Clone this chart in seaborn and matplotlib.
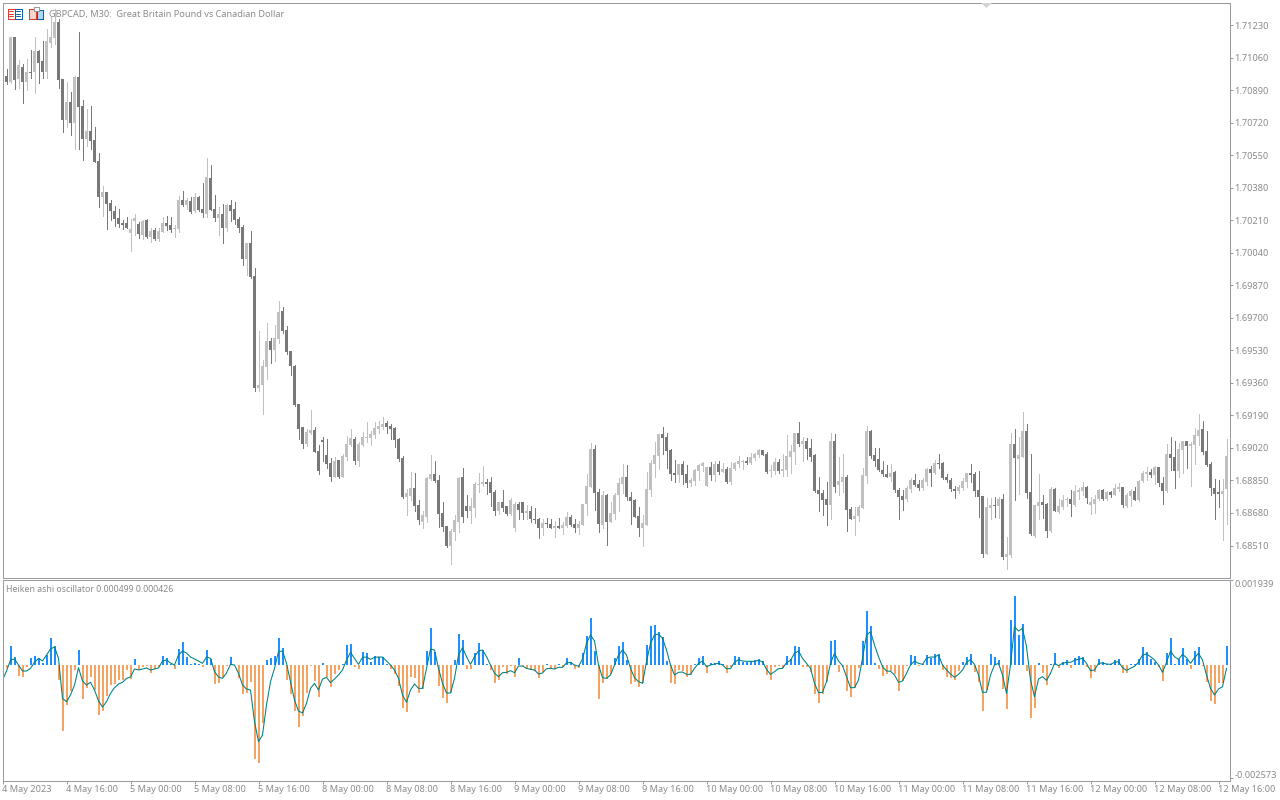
import numpy as np
import pandas as pd
import matplotlib
matplotlib.use("Agg")
import matplotlib.pyplot as plt
from matplotlib.patches import Polygon, Rectangle
import seaborn as sns

# prices are points above 1.68000 (1 point = 0.00001)
opens_pts = [
    2925, 2968, 2932, 3167, 2949, 3015, 2932, 2989, 2984, 3094,
    3042, 2989, 3136, 3162, 3250, 2948, 2734, 2828, 2718, 2958,
    2807, 2634, 2676, 2629, 2520, 2332, 2358, 2300, 2259, 2222,
    2196, 2196, 2144, 2206, 2191, 2133, 2212, 2123, 2159, 2112,
    2149, 2196, 2186, 2165, 2165, 2316, 2290, 2311, 2259, 2332,
    2269, 2243, 2431, 2269, 2222, 2243, 2170, 2290, 2269, 2217,
    2175, 2008, 2092, 1919, 1335, 1350, 1444, 1580, 1533, 1591,
    1737, 1638, 1528, 1450, 1251, 1131, 1043, 1100, 1116, 1006,
    1063, 985, 943, 870, 959, 870, 975, 1037, 1069, 954,
    1037, 1074, 1074, 1090, 1121, 1131, 1152, 1136, 1126, 1069,
    969, 766, 771, 813, 724, 635, 661, 860, 886, 855,
    682, 614, 505, 583, 635, 870, 714, 688, 708, 829,
    834, 844, 844, 792, 688, 735, 714, 677, 599, 729,
    740, 682, 693, 651, 646, 599, 630, 625, 599, 614,
    604, 614, 661, 625, 604, 619, 729, 818, 1016, 792,
    619, 776, 635, 677, 776, 834, 870, 766, 750, 666,
    604, 619, 802, 938, 980, 1095, 1079, 1011, 891, 880,
    938, 886, 839, 849, 901, 927, 823, 922, 880, 938,
    896, 912, 844, 912, 938, 948, 954, 943, 969, 985,
    1011, 990, 901, 901, 948, 901, 907, 974, 1001, 1100,
    1042, 1058, 1021, 985, 802, 787, 755, 724, 1058, 828,
    844, 870, 703, 651, 666, 708, 875, 1110, 985, 964,
    907, 886, 870, 896, 802, 771, 755, 807, 854, 834,
    813, 844, 912, 891, 943, 943, 870, 854, 807, 797,
    813, 844, 891, 886, 802, 771, 463, 708, 724, 719,
    755, 452, 458, 1042, 964, 974, 1110, 792, 562, 719,
    740, 729, 588, 807, 687, 713, 750, 755, 724, 792,
    797, 818, 724, 729, 755, 802, 755, 792, 776, 807,
    818, 719, 771, 797, 750, 849, 886, 896, 880, 922,
    839, 797, 990, 974, 901, 1011, 1058, 1032, 1037, 1084,
    1121, 1006, 938, 813, 792, 781, 807,
]
closes_pts = [
    2968, 2932, 3167, 2946, 3021, 2932, 2989, 2979, 3094, 3036,
    2989, 3146, 3167, 3250, 2942, 2734, 2828, 2718, 2958, 2801,
    2634, 2676, 2624, 2514, 2332, 2358, 2295, 2259, 2217, 2191,
    2186, 2170, 2165, 2222, 2139, 2206, 2123, 2154, 2112, 2154,
    2196, 2180, 2159, 2168, 2316, 2290, 2316, 2253, 2332, 2264,
    2248, 2436, 2264, 2222, 2243, 2170, 2290, 2259, 2212, 2170,
    2008, 2092, 1914, 1335, 1350, 1450, 1580, 1533, 1596, 1733,
    1632, 1523, 1450, 1246, 1121, 1043, 1105, 1116, 1001, 902,
    1053, 938, 870, 954, 870, 980, 1043, 1074, 954, 1043,
    1079, 1079, 1095, 1126, 1136, 1147, 1131, 1121, 1063, 964,
    766, 782, 813, 719, 641, 667, 865, 886, 849, 677,
    609, 510, 588, 641, 865, 661, 688, 714, 834, 834,
    844, 834, 787, 688, 740, 708, 677, 750, 729, 698,
    682, 688, 646, 641, 599, 630, 625, 599, 614, 604,
    619, 661, 619, 604, 625, 729, 823, 1016, 787, 625,
    776, 635, 682, 776, 839, 870, 766, 745, 661, 604,
    630, 807, 943, 985, 1095, 1074, 1006, 886, 880, 938,
    880, 839, 854, 907, 933, 943, 922, 880, 938, 896,
    912, 844, 917, 943, 954, 954, 943, 974, 990, 1011,
    985, 896, 907, 948, 901, 912, 980, 1006, 1100, 1042,
    1058, 1016, 974, 797, 781, 750, 724, 1058, 818, 849,
    870, 698, 651, 666, 713, 880, 1110, 980, 954, 907,
    886, 870, 891, 802, 766, 750, 813, 854, 828, 813,
    854, 912, 891, 943, 938, 865, 854, 807, 797, 818,
    849, 891, 880, 797, 766, 463, 713, 724, 719, 755,
    452, 463, 1042, 969, 985, 1110, 787, 572, 724, 740,
    724, 588, 807, 693, 719, 750, 755, 729, 797, 802,
    818, 760, 740, 755, 802, 755, 792, 776, 813, 818,
    724, 776, 797, 750, 849, 891, 896, 880, 922, 839,
    797, 990, 969, 901, 1016, 1058, 1032, 1042, 1089, 1115,
    1001, 933, 813, 781, 781, 797, 980,
]
highs_pts = [
    2968, 3000, 3167, 3167, 3050, 3026, 3057, 3099, 3172, 3104,
    3146, 3209, 3276, 3318, 3266, 2948, 2932, 2881, 2968, 3198,
    2838, 2791, 2807, 2697, 2561, 2389, 2358, 2316, 2285, 2269,
    2212, 2227, 2217, 2243, 2201, 2212, 2217, 2170, 2170, 2170,
    2227, 2232, 2227, 2185, 2337, 2363, 2326, 2332, 2353, 2337,
    2405, 2535, 2499, 2342, 2279, 2295, 2295, 2316, 2306, 2227,
    2185, 2092, 2154, 1961, 1632, 1481, 1674, 1596, 1664, 1789,
    1758, 1658, 1528, 1455, 1251, 1131, 1121, 1220, 1131, 1037,
    1079, 1069, 969, 975, 959, 990, 1084, 1121, 1079, 1053,
    1105, 1157, 1110, 1157, 1163, 1183, 1163, 1147, 1131, 1074,
    980, 808, 896, 891, 750, 693, 870, 985, 954, 881,
    740, 614, 594, 667, 870, 917, 776, 761, 844, 891,
    928, 860, 870, 802, 740, 802, 719, 761, 740, 735,
    740, 724, 714, 708, 656, 646, 656, 651, 640, 656,
    635, 687, 672, 651, 640, 729, 886, 1048, 1037, 807,
    797, 781, 740, 787, 865, 938, 933, 792, 755, 713,
    672, 896, 959, 1053, 1095, 1131, 1100, 1016, 959, 938,
    954, 933, 865, 912, 938, 948, 922, 948, 954, 954,
    943, 922, 948, 948, 980, 959, 974, 995, 995, 1016,
    1011, 1001, 933, 969, 964, 990, 1089, 1037, 1100, 1157,
    1079, 1074, 1068, 990, 870, 802, 844, 1100, 1095, 974,
    990, 880, 713, 713, 724, 917, 1136, 1115, 1021, 1021,
    954, 933, 938, 901, 813, 802, 823, 865, 886, 854,
    865, 917, 927, 959, 990, 948, 886, 865, 823, 828,
    865, 891, 938, 896, 901, 771, 760, 760, 766, 766,
    781, 552, 1100, 1121, 1079, 1209, 1147, 990, 724, 886,
    776, 734, 818, 813, 755, 776, 766, 802, 828, 813,
    844, 823, 766, 776, 807, 807, 797, 797, 834, 839,
    818, 787, 807, 818, 854, 901, 922, 912, 927, 922,
    870, 1042, 1079, 1058, 1048, 1058, 1058, 1053, 1126, 1199,
    1162, 1110, 948, 860, 854, 860, 1068,
]
lows_pts = [
    2922, 2925, 2928, 2897, 2904, 2824, 2890, 2953, 2876, 2928,
    2956, 2953, 3115, 3134, 2901, 2671, 2699, 2655, 2582, 2582,
    2525, 2598, 2582, 2514, 2279, 2232, 2165, 2212, 2180, 2175,
    2165, 2170, 2050, 2133, 2118, 2112, 2118, 2097, 2107, 2102,
    2149, 2159, 2149, 2123, 2149, 2285, 2269, 2248, 2253, 2259,
    2227, 2227, 2264, 2206, 2133, 2092, 2154, 2206, 2191, 2149,
    1977, 1925, 1909, 1319, 1319, 1199, 1382, 1465, 1476, 1570,
    1622, 1512, 1403, 1241, 1069, 1022, 1032, 1095, 1001, 886,
    954, 917, 849, 870, 865, 870, 959, 1032, 938, 927,
    1032, 1053, 1037, 1074, 1100, 1121, 1100, 1069, 1027, 954,
    761, 672, 750, 688, 620, 599, 635, 855, 844, 609,
    588, 500, 411, 541, 578, 635, 661, 630, 661, 792,
    823, 781, 714, 667, 677, 688, 672, 672, 588, 651,
    651, 646, 635, 630, 547, 567, 609, 599, 557, 599,
    572, 609, 614, 583, 572, 619, 672, 818, 698, 578,
    604, 515, 635, 651, 693, 787, 750, 625, 661, 562,
    510, 619, 771, 870, 912, 990, 917, 854, 844, 844,
    834, 818, 823, 828, 854, 901, 823, 854, 849, 886,
    896, 839, 834, 907, 922, 912, 938, 938, 959, 974,
    985, 891, 870, 886, 891, 875, 875, 891, 938, 1032,
    954, 964, 954, 792, 693, 672, 619, 646, 792, 776,
    792, 588, 651, 567, 640, 708, 839, 969, 927, 901,
    875, 870, 849, 792, 651, 698, 745, 792, 823, 802,
    802, 828, 823, 886, 917, 860, 844, 797, 760, 787,
    802, 818, 844, 771, 661, 452, 463, 646, 661, 656,
    437, 385, 452, 750, 781, 974, 760, 567, 552, 651,
    656, 557, 578, 693, 682, 703, 719, 666, 719, 755,
    776, 734, 677, 682, 750, 750, 750, 766, 776, 797,
    713, 713, 719, 750, 745, 844, 854, 870, 834, 823,
    729, 792, 907, 813, 870, 891, 917, 823, 938, 1037,
    990, 927, 776, 651, 713, 541, 625,
]

# oscillator, units of 1e-6
hist_e6 = [
    0, -68, 433, 182, -251, -274, -46, 160, 205, 160,
    46, 228, 616, 433, -342, -1505, -912, -593, -114, 342,
    -775, -524, -274, -570, -1140, -1049, -707, -456, -433, -342,
    -342, -114, -319, 137, -114, -46, -23, -182, -91, -46,
    205, 160, 23, -91, 365, 524, 182, 23, 46, 23,
    -46, 342, 137, -433, -410, -274, -23, 182, 0, -296,
    -661, -638, -388, -2143, -2234, -1322, 114, 160, 205, 616,
    388, -342, -661, -1049, -1414, -1163, -638, -23, -365, -730,
    46, -274, -502, -205, -114, 23, 456, 479, -46, -91,
    296, 274, 68, 205, 182, 182, 23, -91, -205, -479,
    -980, -1072, -274, -296, -638, -547, 319, 844, 296, -479,
    -752, -866, -638, 114, 707, 570, -91, -91, 274, 502,
    342, 23, -114, -410, -342, -46, -205, -23, -274, 160,
    -23, -91, -114, -137, -296, -160, 23, -68, -91, 23,
    -46, 160, 68, -91, -68, 274, 661, 1072, 319, -775,
    -410, -319, -205, 160, 433, 524, 114, -433, -388, -502,
    -410, 456, 889, 912, 752, 638, 91, -410, -433, -114,
    -137, -274, -228, 23, 160, 205, -182, 46, 46, 91,
    23, -182, -46, 205, 182, 68, 68, 91, 114, 137,
    91, -228, -342, -46, -23, -68, 205, 137, 433, 410,
    -46, -46, -160, -661, -866, -661, -388, 547, 570, -160,
    -46, -593, -730, -524, -68, 547, 1231, 889, 46, -91,
    -251, -205, -137, -205, -593, -365, -23, 228, 205, -23,
    23, 228, 160, 251, 251, -114, -274, -296, -342, -137,
    68, 182, 251, -160, -388, -1049, -570, 251, 182, 114,
    -547, -1003, 1026, 1573, 684, 935, -137, -1208, -980, 46,
    -182, -456, 23, 274, -68, 68, 114, -68, 160, 205,
    182, -46, -296, -160, 137, 68, 23, 23, 114, 137,
    -182, -182, 23, 23, 137, 410, 296, 137, 68, -46,
    -365, 274, 616, 23, 137, 388, 137, -91, 319, 410,
    -23, -388, -821, -889, -410, -410, 433,
]
signal_e6 = [
    -342, -137, 114, 137, 0, -137, -137, -76, 61, 152,
    91, 228, 365, 410, 152, -760, -836, -684, -456, -61,
    -365, -456, -395, -570, -821, -958, -836, -646, -517, -433,
    -395, -304, -274, -91, -114, -91, -68, -114, -91, -68,
    91, 114, 46, 0, 228, 319, 274, 182, 137, 91,
    38, 182, 152, -152, -274, -304, -182, 15, 0, -190,
    -456, -547, -570, -1292, -1748, -1596, -912, -380, -76, 304,
    319, 38, -380, -798, -1049, -1094, -874, -532, -418, -570,
    -319, -281, -403, -319, -228, -114, 114, 289, 152, 15,
    175, 182, 129, 175, 182, 182, 91, 0, -114, -304,
    -684, -851, -570, -433, -532, -532, -76, 365, 342, -76,
    -418, -638, -638, -304, 228, 395, 190, 15, 190, 319,
    342, 190, 0, -190, -266, -175, -167, -129, -175, -23,
    -23, -76, -99, -114, -205, -182, -84, -76, -91, -53,
    -53, 46, 61, 0, -30, 137, 494, 684, 547, 0,
    -289, -304, -228, 0, 228, 342, 228, -76, -289, -380,
    -418, 76, 494, 684, 707, 608, 342, 0, -228, -167,
    -160, -213, -213, -76, 38, 91, -38, 0, 23, 38,
    0, -84, -84, 61, 122, 91, 84, 84, 84, 106,
    76, -99, -213, -152, -84, -76, 53, 106, 266, 319,
    152, 38, -76, -418, -631, -623, -380, 38, 266, 91,
    -15, -266, -517, -517, -342, 152, 684, 760, 456, 190,
    -38, -137, -144, -228, -395, -365, -190, 0, 91, 38,
    15, 152, 182, 182, 228, 0, -114, -205, -281, -213,
    -114, 61, 122, 15, -228, -623, -623, -228, 0, 38,
    -228, -646, 0, 874, 775, 836, 418, -342, -722, -319,
    -266, -350, -190, 38, -15, 38, 61, 61, 106, 129,
    152, 38, -129, -114, 38, 46, 23, 15, 61, 76,
    -61, -122, -76, -30, 61, 228, 251, 190, 114, 0,
    -167, 61, 319, 190, 129, 243, 167, 38, 167, 266,
    114, -228, -532, -684, -547, -494, -76,
]

price_ticks = [1.71230, 1.71060, 1.70890, 1.70720, 1.70550, 1.70380, 1.70210, 1.70040,
               1.69870, 1.69700, 1.69530, 1.69360, 1.69190, 1.69020, 1.68850, 1.68680, 1.68510]
osc_ticks = [0.001939, -0.002573]
date_labels = ["4 May 2023", "4 May 16:00", "5 May 00:00", "5 May 08:00", "5 May 16:00",
               "8 May 00:00", "8 May 08:00", "8 May 16:00", "9 May 00:00", "9 May 08:00",
               "9 May 16:00", "10 May 00:00", "10 May 08:00", "10 May 16:00", "11 May 00:00",
               "11 May 08:00", "11 May 16:00", "12 May 00:00", "12 May 08:00", "12 May 16:00"]
BARS_PER_LABEL = 16

UP_COL = "#c0c0c0"
DOWN_COL = "#787878"
BLUE = "#1e90ff"
ORANGE = "#f4a460"
TEAL = "#008080"
FRAME = "#9a9a9e"
TXT = "#8a8a8e"
W, H = 1280, 800
PX = 0.72  # one pixel in points at dpi 100

sns.set_theme(style="white")
plt.rcParams["font.family"] = ["Noto Sans", "DejaVu Sans"]


def box(left, top, right, bottom):
    return [left / W, 1 - bottom / H, (right - left) / W, (bottom - top) / H]


def px(x, y):
    return (x / W, 1 - y / H)


fig = plt.figure(figsize=(12.8, 8), dpi=100, facecolor="white")
ax1 = fig.add_axes(box(2.5, 2.5, 1229.5, 577.5))
ax2 = fig.add_axes(box(2.5, 579.5, 1229.5, 780.5))

# ─── candles ─────────────────────────────────
o = 1.68 + np.array(opens_pts) * 1e-5
c = 1.68 + np.array(closes_pts) * 1e-5
h = 1.68 + np.array(highs_pts) * 1e-5
l = 1.68 + np.array(lows_pts) * 1e-5
xs = np.arange(len(o))
cols = [UP_COL if b >= a else DOWN_COL for a, b in zip(o, c)]

ax1.vlines(xs, l, h, colors=cols, linewidth=PX, antialiased=False)
ax1.bar(xs, np.abs(c - o), bottom=np.minimum(o, c), width=0.75, color=cols,
        linewidth=0, antialiased=False)
ax1.set_xlim(0, 306.75)
ax1.set_ylim(1.68510 - 32 * 5.23e-5, 1.68510 + 543 * 5.23e-5)
ax1.set_xticks([])
ax1.yaxis.tick_right()
ax1.set_yticks(price_ticks)
ax1.set_yticklabels([f"{t:.5f}" for t in price_ticks])
ax1.text(49 / W, 1 - 14 / H, "GBPCAD, M30:  Great Britain Pound vs Canadian Dollar",
         transform=fig.transFigure, fontsize=6.6, color=TXT, va="center", ha="left")

# ─── oscillator ──────────────────────────────
df = pd.DataFrame({"bar": xs, "hist": np.array(hist_e6) * 1e-6, "signal": np.array(signal_e6) * 1e-6})
df["side"] = np.where(df["hist"] >= 0, "up", "down")
sns.barplot(data=df, x="bar", y="hist", hue="side", palette={"up": BLUE, "down": ORANGE},
            native_scale=True, width=0.5, dodge=False, saturation=1, legend=False,
            linewidth=0, ax=ax2)
for patch in ax2.patches:
    patch.set_antialiased(False)
sns.lineplot(data=df, x="bar", y="signal", color=TEAL, linewidth=1.05 * PX,
             estimator=None, errorbar=None, legend=False, ax=ax2)
ax2.set_xlim(0, 306.75)
ax2.set_ylim(-115.5 * 22.8e-6, 85.5 * 22.8e-6)
ax2.set_xlabel("")
ax2.set_ylabel("")
ax2.yaxis.tick_right()
ax2.set_yticks(osc_ticks)
ax2.set_yticklabels([f"{t:.6f}" for t in osc_ticks])
ax2.get_yticklabels()[0].set_va("top")
ax2.get_yticklabels()[1].set_va("baseline")
ax2.set_xticks(np.arange(len(date_labels)) * BARS_PER_LABEL)
ax2.set_xticklabels(date_labels, ha="left")
ax2.text(6 / W, 1 - 589 / H, "Heiken ashi oscillator 0.000499 0.000426",
         transform=fig.transFigure, fontsize=6.3, color=TXT, va="center", ha="left")

for ax in (ax1, ax2):
    for s in ax.spines.values():
        s.set_visible(True)
        s.set_color(FRAME)
        s.set_linewidth(PX)
    ax.tick_params(axis="both", length=3.2 * PX, width=PX, color=FRAME, labelcolor=TXT,
                   labelsize=6.6, pad=1.2, bottom=ax is ax2, right=True, left=False)

# ─── toolbar icons and shift marker ──────────
def rect(x0, y0, x1, y1, face, edge):
    fig.add_artist(Rectangle(px(x0, y1), (x1 - x0) / W, (y1 - y0) / H, transform=fig.transFigure,
                             facecolor=face, edgecolor=edge, linewidth=PX, antialiased=False))


rect(7.5, 8.5, 14.5, 18.5, "white", "#e03c32")
rect(14.5, 8.5, 21.5, 18.5, "white", "#0f5fa8")
for yy in (11, 13.5, 16):
    fig.add_artist(plt.Line2D([9 / W, 13 / W], [1 - yy / H] * 2, color="#e03c32", lw=PX))
    fig.add_artist(plt.Line2D([16 / W, 20 / W], [1 - yy / H] * 2, color="#0f5fa8", lw=PX))
rect(28.5, 8.5, 35.5, 18.5, "#fbd5cc", "#e03c32")
rect(36.5, 10.5, 42.5, 18.5, "#a9d8f5", "#0f5fa8")
rect(33.5, 7.5, 38.5, 10.5, "white", "#9a9a9e")
fig.add_artist(Polygon([px(981, 3), px(992, 3), px(986.5, 8)], transform=fig.transFigure,
                       facecolor="#d4d4d8", edgecolor="none"))

fig.savefig("out.png", dpi=100)
